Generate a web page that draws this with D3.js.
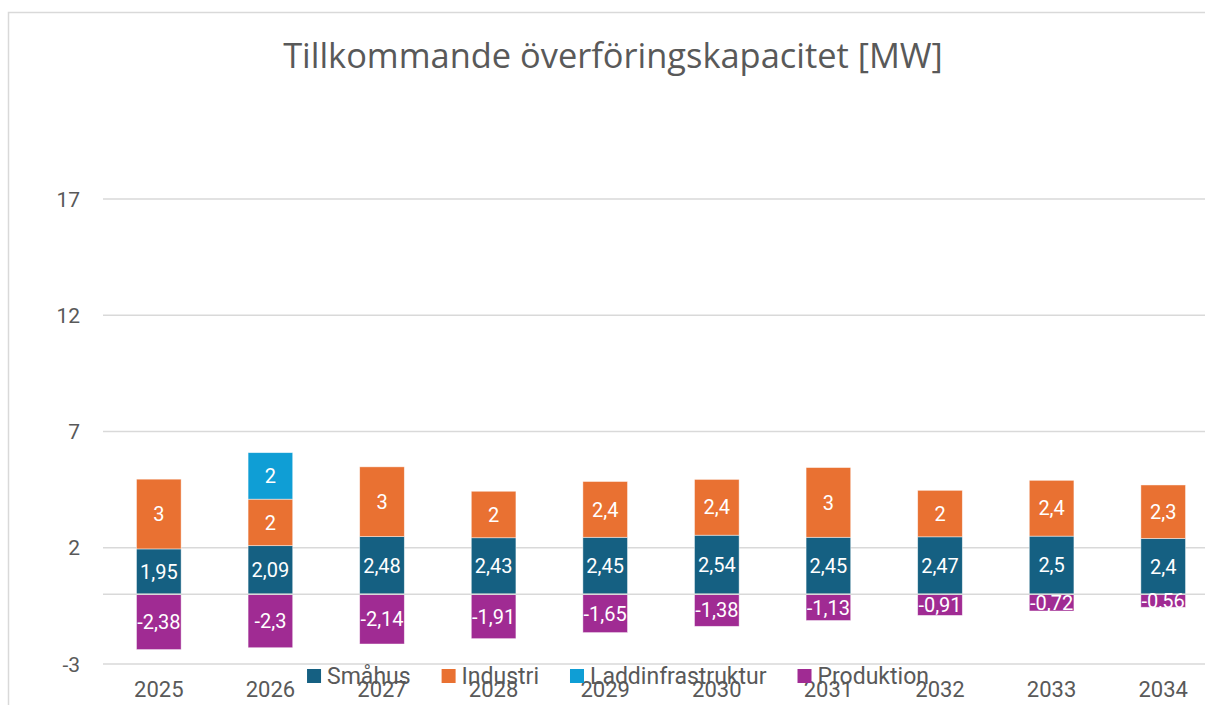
<!DOCTYPE html>
<html><head><meta charset="utf-8">
<script src="https://cdn.jsdelivr.net/npm/d3@7"></script>
<style>body{margin:0;background:#fff}svg{display:block}</style>
</head><body>
<svg id="c" width="1205" height="705"></svg>
<script>
const years = ["2025","2026","2027","2028","2029","2030","2031","2032","2033","2034"];
const smahus = [1.95,2.09,2.48,2.43,2.45,2.54,2.45,2.47,2.5,2.4];
const industri = [3,2,3,2,2.4,2.4,3,2,2.4,2.3];
const laddinfra = [0,2,0,0,0,0,0,0,0,0];
const produktion = [-2.38,-2.3,-2.14,-1.91,-1.65,-1.38,-1.13,-0.91,-0.72,-0.56];
const seriesNames = ["Småhus","Industri","Laddinfrastruktur","Produktion"];
const seriesColors = ["#156082","#E97132","#0F9ED5","#A02B93"];
const yTicks = [-3,2,7,12,17];
const title = "Tillkommande överföringskapacitet [MW]";

const svg = d3.select("#c");
const font = "Roboto, 'Open Sans', sans-serif";
const textCol = "#595959";

// chart border
svg.append("rect").attr("x",8.5).attr("y",12.5).attr("width",1240).attr("height",740)
  .attr("fill","#fff").attr("stroke","#d9d9d9").attr("stroke-width",1.5);

svg.append("text").attr("x",613).attr("y",68).attr("text-anchor","middle")
  .attr("font-family","'Open Sans', sans-serif").attr("font-size",34.4).attr("fill",textCol)
  .text(title);

const x = d3.scaleBand().domain(years).range([103,1219]).paddingInner(0.6).paddingOuter(0.3);
const y = d3.scaleLinear().domain([-3,17]).range([664,199]);

// gridlines
svg.append("g").selectAll("line").data(yTicks).join("line")
  .attr("x1",103).attr("x2",1219).attr("y1",d=>y(d)).attr("y2",d=>y(d))
  .attr("stroke","#d9d9d9").attr("stroke-width",1.5);

// y labels
svg.append("g").selectAll("text").data(yTicks).join("text")
  .attr("x",80).attr("y",d=>y(d)).attr("dy","0.36em").attr("text-anchor","end")
  .attr("font-family",font).attr("font-size",21).attr("fill",textCol).text(d=>d);

const table = years.map((yr,i)=>({year:yr, "Småhus":smahus[i], "Industri":industri[i], "Laddinfrastruktur":laddinfra[i], "Produktion":produktion[i]}));
const stack = d3.stack().keys(seriesNames).offset(d3.stackOffsetDiverging);
const stacked = stack(table);

const gBars = svg.append("g");
stacked.forEach((s,si)=>{
  const g = gBars.append("g");
  s.forEach(d=>{
    const v = d.data[s.key];
    if (!v) return;
    const y0 = y(d[1]), y1 = y(d[0]);
    g.append("rect").attr("x",x(d.data.year)).attr("width",x.bandwidth())
      .attr("y",Math.min(y0,y1)).attr("height",Math.abs(y1-y0))
      .attr("fill",seriesColors[si]).attr("stroke","#fff").attr("stroke-width",0.75).attr("stroke-opacity",0.6);
  });
});

// axis line at zero
svg.append("line").attr("x1",103).attr("x2",1219).attr("y1",y(0)).attr("y2",y(0))
  .attr("stroke","#d9d9d9").attr("stroke-width",1.5);

// data labels
const gLab = svg.append("g");
stacked.forEach((s,si)=>{
  s.forEach(d=>{
    const v = d.data[s.key];
    if (!v) return;
    gLab.append("text").attr("x",x(d.data.year)+x.bandwidth()/2).attr("y",(y(d[0])+y(d[1]))/2)
      .attr("dy","0.36em").attr("text-anchor","middle").attr("font-family",font)
      .attr("font-size",20).attr("fill","#fff").text(String(v).replace(".",","));
  });
});

// x labels
svg.append("g").selectAll("text").data(years).join("text")
  .attr("x",d=>x(d)+x.bandwidth()/2).attr("y",697).attr("text-anchor","middle")
  .attr("font-family",font).attr("font-size",22).attr("fill",textCol).text(d=>d);

// legend
const lg = svg.append("g");
const items = seriesNames.map((n,i)=>{
  const g = lg.append("g");
  g.append("rect").attr("x",0).attr("y",-15).attr("width",14).attr("height",14).attr("fill",seriesColors[i]);
  const t = g.append("text").attr("x",20).attr("y",0).attr("font-family",font).attr("font-size",23).attr("fill",textCol).text(n);
  return {g, w: 20 + t.node().getComputedTextLength()};
});
const gap = 31;
const total = d3.sum(items,d=>d.w) + gap*(items.length-1);
let cx = 618 - total/2;
items.forEach(it=>{ it.g.attr("transform",`translate(${cx},684)`); cx += it.w + gap; });
</script>
</body></html>
